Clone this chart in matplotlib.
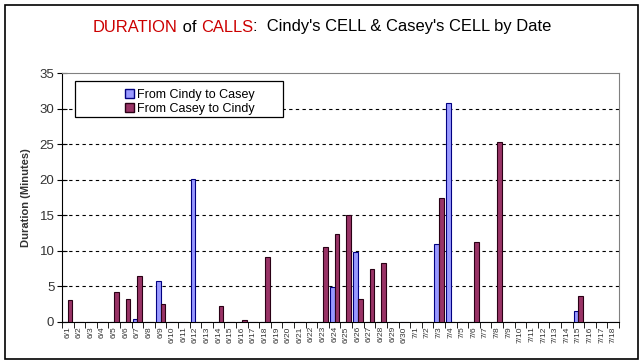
import matplotlib
matplotlib.use("Agg")
import numpy as np
import matplotlib.pyplot as plt
from matplotlib.patches import Rectangle, Patch

plt.rcParams["font.family"] = ["Liberation Sans", "DejaVu Sans"]

# categories: 6/1 .. 6/30, 7/1 .. 7/18
dates = [f"6/{d}" for d in range(1, 31)] + [f"7/{d}" for d in range(1, 19)]

# durations in minutes (0 = no call)
cindy_to_casey = {
    "6/7": 0.4, "6/9": 5.8, "6/12": 20.1, "6/24": 4.9, "6/26": 9.8,
    "7/3": 11.0, "7/4": 30.8, "7/15": 1.5,
}
casey_to_cindy = {
    "6/1": 3.1, "6/5": 4.2, "6/6": 3.2, "6/7": 6.5, "6/9": 2.5, "6/14": 2.2,
    "6/16": 0.3, "6/18": 9.1, "6/23": 10.5, "6/24": 12.4, "6/25": 15.0,
    "6/26": 3.2, "6/27": 7.4, "6/28": 8.3, "7/3": 17.4, "7/6": 11.2,
    "7/8": 25.3, "7/15": 3.6,
}

cindy_vals = np.array([cindy_to_casey.get(d, 0) for d in dates])
casey_vals = np.array([casey_to_cindy.get(d, 0) for d in dates])

W, H = 644, 364
fig = plt.figure(figsize=(W / 100, H / 100), dpi=100)
fig.patch.set_facecolor("white")

# outer black frame
fig.patches.append(Rectangle((5 / W, 1 - 359 / H), 633 / W, 354 / H,
                             transform=fig.transFigure, fill=False,
                             edgecolor="black", linewidth=1.2))

ax = fig.add_axes([62 / W, 1 - 322 / H, (619 - 62) / W, (322 - 73) / H])

x = np.arange(len(dates))
bw = 0.4
ax.bar(x - bw / 2, cindy_vals, bw, color="#9999FF", edgecolor="#000080",
       linewidth=0.8, label="From Cindy to Casey", zorder=3)
ax.bar(x + bw / 2, casey_vals, bw, color="#993366", edgecolor="#2a0015",
       linewidth=0.8, label="From Casey to Cindy", zorder=3)

ax.set_xlim(-0.5, len(dates) - 0.5)
ax.set_ylim(0, 35)
ax.set_yticks(range(0, 36, 5))
ax.tick_params(axis="y", direction="inout", length=7, labelsize=9.5,
               labelcolor="#333333", pad=2)
for yv in range(5, 35, 5):
    ax.axhline(yv, color="black", linestyle=(0, (3, 3)), linewidth=0.8, zorder=1)

ax.set_xticks(x)
ax.set_xticklabels(dates, rotation=90, fontsize=6, color="#333333")
ax.tick_params(axis="x", which="major", length=0, pad=3)
ax.set_xticks(np.arange(-0.5, len(dates), 1), minor=True)
ax.tick_params(axis="x", which="minor", direction="out", length=4)

for s in ["top", "right"]:
    ax.spines[s].set_color("#808080")
for s in ["left", "bottom"]:
    ax.spines[s].set_color("black")

ax.set_ylabel("Duration (Minutes)", fontsize=8, fontweight="bold",
              color="#333333", labelpad=6)

# legend box
fig.patches.append(Rectangle((75 / W, 1 - 117 / H), 208 / W, 36 / H,
                             transform=fig.transFigure, fill=True,
                             facecolor="white", edgecolor="black",
                             linewidth=0.9, zorder=5))
handles = [Patch(facecolor="#9999FF", edgecolor="#000080"),
           Patch(facecolor="#993366", edgecolor="#2a0015")]
leg = fig.legend(handles, ["From Cindy to Casey", "From Casey to Cindy"],
                 loc="upper left", bbox_to_anchor=(116 / W, 1 - 80 / H),
                 frameon=False, fontsize=9, handlelength=0.7,
                 handleheight=0.7, handletextpad=0.3, labelspacing=0.15,
                 borderpad=0.2)
leg.set_zorder(6)

# multi-coloured title
pieces = [("DURATION", "#CC0000"), (" of ", "black"), ("CALLS", "#CC0000"),
          (":  Cindy's CELL & Casey's CELL by Date", "black")]
renderer = fig.canvas.get_renderer()
texts = []
xpos = 0
for s, c in pieces:
    t = fig.text(xpos, 1 - 27 / H, s, color=c, fontsize=11.9, va="center",
                 ha="left")
    fig.canvas.draw()
    bb = t.get_window_extent(renderer)
    texts.append(t)
    xpos += bb.width / W
shift = 0.5 - xpos / 2
cur = shift
for t in texts:
    bb = t.get_window_extent(renderer)
    t.set_x(cur)
    cur += bb.width / W

fig.savefig("out.png", dpi=100)
